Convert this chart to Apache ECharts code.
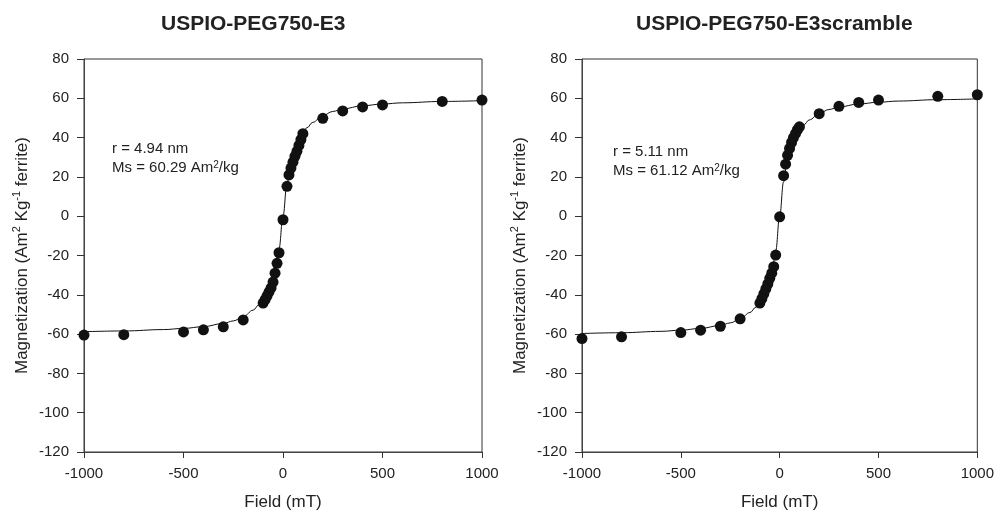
<!DOCTYPE html>
<html>
<head>
<meta charset="utf-8">
<script src="https://cdn.jsdelivr.net/npm/echarts@6/dist/echarts.min.js"></script>
<style>html,body{margin:0;padding:0;background:#fff}#c{width:997px;height:516px}</style>
</head>
<body>
<div id="c"></div>
<script>
// ---- data ----
const titles = ['USPIO-PEG750-E3', 'USPIO-PEG750-E3scramble'];
const xTicks = [-1000, -500, 0, 500, 1000];
const yTicks = [-120, -100, -80, -60, -40, -20, 0, 20, 40, 60, 80];

const fieldL = [-1000,-800,-500,-400,-300,-200,-100,-90,-80,-70,-60,-50,-40,-30,-20,0,20,30,40,50,60,70,80,90,100,200,300,400,500,800,1000];
const magL   = [-60.5,-60.3,-58.9,-57.8,-56.3,-52.8,-44.2,-42.5,-40.5,-38.5,-36.5,-33.5,-29,-24,-18.6,-1.8,15.2,21,24.5,27.5,30.5,33,36,39,42,49.8,53.6,55.6,56.6,58.4,59.1];

const fieldR = [-1000,-800,-500,-400,-300,-200,-100,-90,-80,-70,-60,-50,-40,-30,-20,0,20,30,40,50,60,70,80,90,100,200,300,400,500,800,1000];
const magR   = [-62.3,-61.4,-59.2,-58,-56,-52.2,-44.2,-42,-39.5,-37,-34.5,-31.6,-29,-25.7,-19.8,-0.3,20.6,26.5,31,34.5,37.5,40,42,44,45.5,52.2,55.9,57.9,59.1,61,61.8];

const fitField = [-1000,-800,-600,-500,-400,-300,-250,-200,-150,-120,-100,-80,-60,-40,-20,0,20,40,60,80,100,120,150,200,250,300,400,500,600,800,1000];
const fitL = [-58.8,-58.4,-57.7,-57.1,-56.2,-54.6,-53.3,-51.2,-47.8,-45,-43,-40,-35.5,-28.5,-16.5,0,16.5,28.5,35.5,40,43,45,47.8,51.2,53.3,54.6,56.2,57.1,57.7,58.4,58.8];
const fitR = [-59.7,-59.3,-58.6,-58,-57.1,-55.6,-54.3,-52.3,-49,-46.3,-44.3,-41.3,-37,-30,-17.5,0,17.5,30,37,41.3,44.3,46.3,49,52.3,54.3,55.6,57.1,58,58.6,59.3,59.7];

const notesL = ['r = 4.94 nm', 'Ms = 60.29 Am{sup|2}/kg'];
const notesR = ['r = 5.11 nm', 'Ms = 61.12 Am{sup|2}/kg'];
const xName = 'Field (mT)';
const yName = 'Magnetization (Am{sup|2} Kg{sup|-1} ferrite)';

// ---- chart ----
const FF = '"Liberation Sans", Arial, Helvetica, sans-serif';
const zip = (a, b) => a.map((v, i) => [v, b[i]]);

function xAxis(gi) {
  return {
    type: 'value', gridIndex: gi, min: xTicks[0], max: xTicks[xTicks.length - 1], interval: 500,
    name: xName, nameLocation: 'middle', nameGap: 42,
    nameTextStyle: { fontSize: 17, color: '#222', fontFamily: FF },
    axisLine: { onZero: false, lineStyle: { color: '#444', width: 1 } },
    axisTick: { show: true, inside: false, length: 6, lineStyle: { color: '#333' } },
    axisLabel: { fontSize: 15, color: '#222', fontFamily: FF, margin: 14, formatter: v => String(v) },
    splitLine: { show: false }
  };
}
function yAxis(gi) {
  return {
    type: 'value', gridIndex: gi, min: yTicks[0], max: yTicks[yTicks.length - 1], interval: 20,
    name: yName, nameLocation: 'middle', nameGap: 51, nameRotate: 90,
    nameTextStyle: { fontSize: 17, color: '#222', fontFamily: FF, lineHeight: 22,
      rich: { sup: { fontSize: 11, color: '#222', fontFamily: FF, verticalAlign: 'top', lineHeight: 11 } } },
    axisLine: { onZero: false, lineStyle: { color: '#444', width: 1 } },
    axisTick: { show: true, inside: false, length: 7, lineStyle: { color: '#333' } },
    axisLabel: { fontSize: 15, color: '#222', fontFamily: FF, margin: 15, formatter: v => String(v) },
    splitLine: { show: false }
  };
}
function note(lines, x, y) {
  return lines.map((t, i) => ({
    type: 'text', x: x, y: y + i * 19,
    style: { text: t, fontSize: 15, fontFamily: FF, fill: '#222', verticalAlign: 'middle',
      rich: { sup: { fontSize: 10, fontFamily: FF, fill: '#222', verticalAlign: 'top', lineHeight: 10 } } }
  }));
}
function scatter(gi, data) {
  return { type: 'scatter', xAxisIndex: gi, yAxisIndex: gi, data: data, symbolSize: 11,
    itemStyle: { color: '#111', opacity: 1 }, z: 3 };
}
function fit(gi, data) {
  return { type: 'line', xAxisIndex: gi, yAxisIndex: gi, data: data, smooth: 0.4, smoothMonotone: 'x',
    showSymbol: false, lineStyle: { color: '#111', width: 1 }, z: 2 };
}

const chart = echarts.init(document.getElementById('c'), null, { renderer: 'canvas' });
chart.setOption({
  backgroundColor: '#fff',
  animation: false,
  title: [
    { text: titles[0], left: 161, top: 14, padding: 0, textStyle: { fontSize: 21, fontWeight: 'bold', color: '#222', fontFamily: FF } },
    { text: titles[1], left: 636, top: 14, padding: 0, textStyle: { fontSize: 21, fontWeight: 'bold', color: '#222', fontFamily: FF } }
  ],
  grid: [
    { left: 84, top: 59, width: 398, height: 399, show: true, borderColor: '#333', borderWidth: 1, backgroundColor: 'transparent' },
    { left: 582, top: 59, width: 398, height: 396, show: true, borderColor: '#333', borderWidth: 1, backgroundColor: 'transparent' }
  ],
  xAxis: [xAxis(0), xAxis(1)],
  yAxis: [yAxis(0), yAxis(1)],
  series: [
    fit(0, zip(fitField, fitL)), scatter(0, zip(fieldL, magL)),
    fit(1, zip(fitField, fitR)), scatter(1, zip(fieldR, magR))
  ],
  graphic: [].concat(note(notesL, 112, 149), note(notesR, 613, 152))
});
</script>
</body>
</html>
